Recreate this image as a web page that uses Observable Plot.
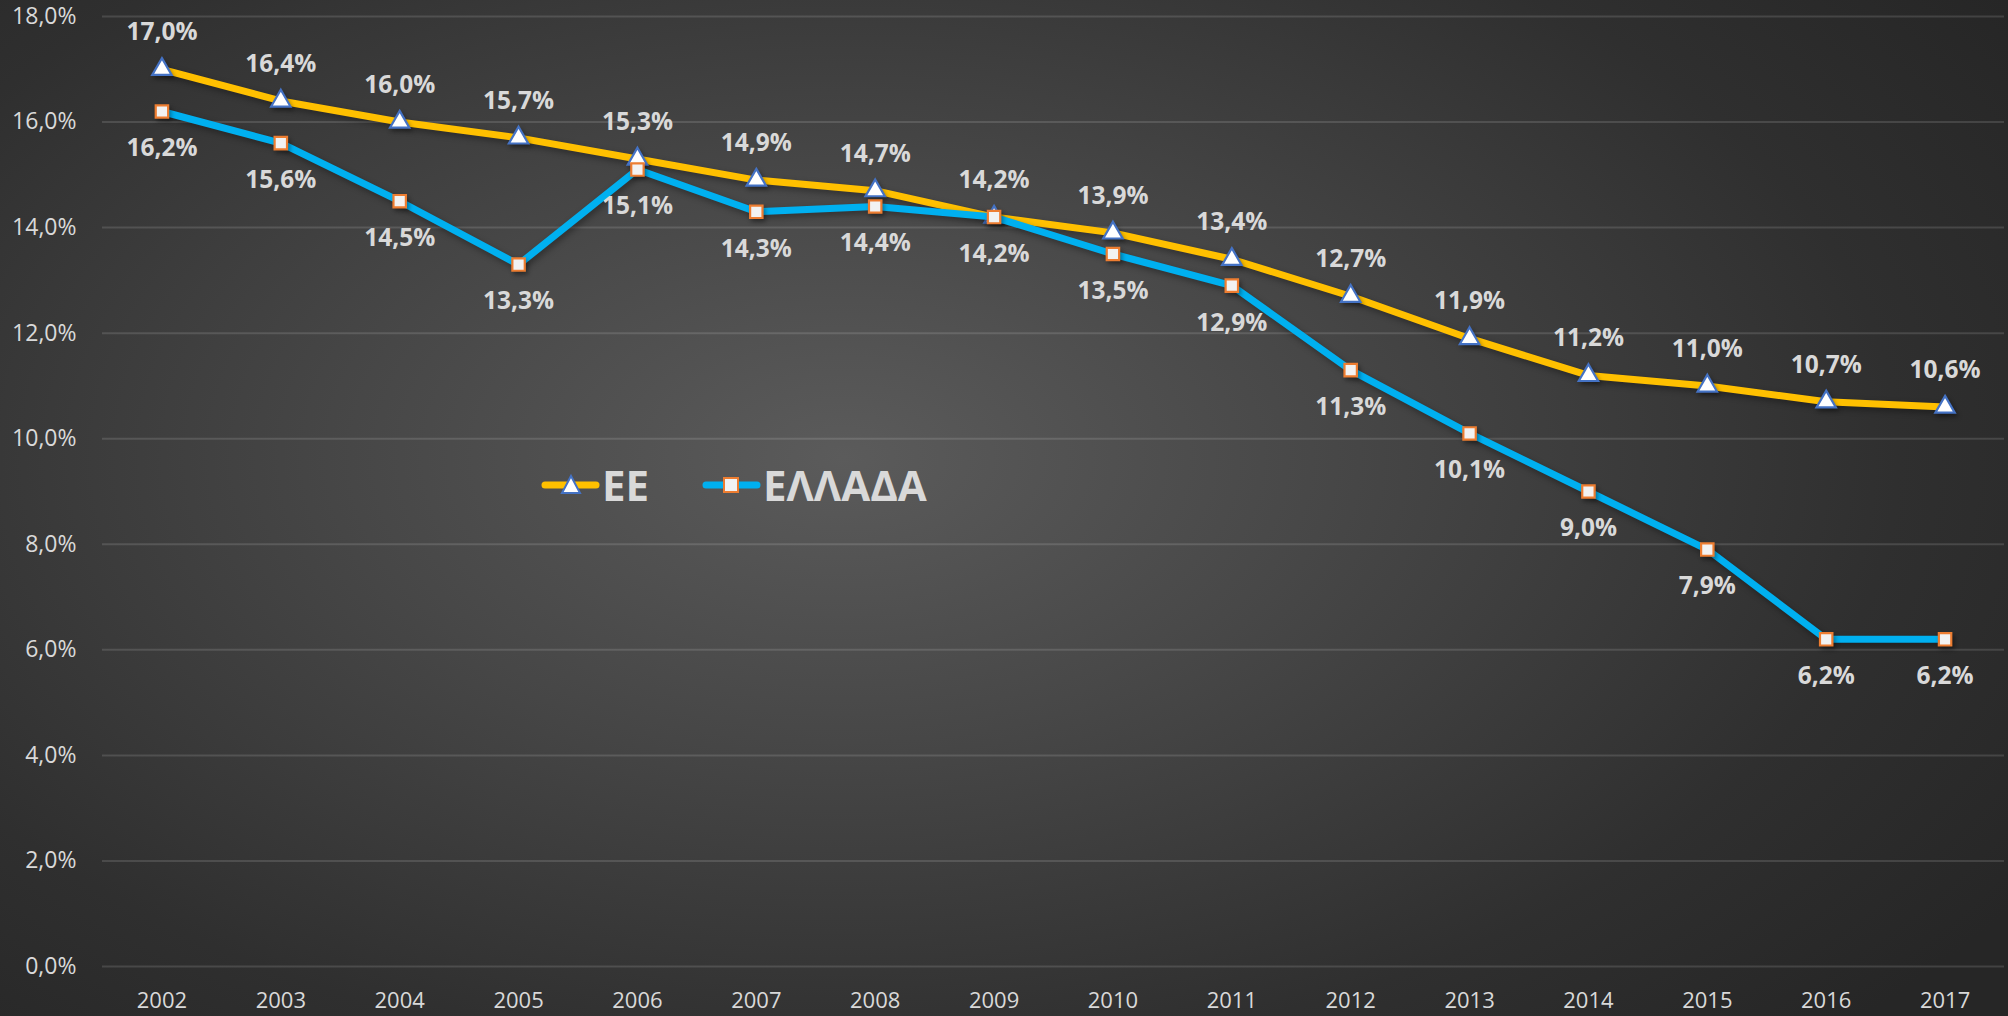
<!DOCTYPE html>
<html>
<head>
<meta charset="utf-8">
<script src="https://cdn.jsdelivr.net/npm/d3@7"></script>
<script src="https://cdn.jsdelivr.net/npm/@observablehq/plot@0.6"></script>
<style>
  html, body { margin: 0; padding: 0; background: #262626; }
  #wrap {
    position: relative; width: 2008px; height: 1016px; overflow: hidden;
    background: radial-gradient(ellipse 70% 80% at 42% 45%, #5b5b5b 0%, #474747 35%, #2f2f2f 75%, #262626 100%);
    font-family: "Open Sans", sans-serif;
  }
  #chart svg { display: block; }
  #chart g[aria-label="line"] path { filter: drop-shadow(2px 3px 3px rgba(0,0,0,0.35)); }
  #chart g[aria-label="dot"] path { filter: drop-shadow(2px 3px 2px rgba(0,0,0,0.35)); }
  #legend {
    position: absolute; left: 540px; top: 457px; height: 56px;
    display: flex; align-items: center; gap: 0;
    color: #d9d9d9; font-weight: 700; font-size: 42px; letter-spacing: 0px;
  }
  #legend .item { display: flex; align-items: center; }
  #legend svg { display: block; }
</style>
</head>
<body>
<div id="wrap">
  <div id="chart"></div>
  <div id="legend"></div>
</div>
<script>
const years = ["2002","2003","2004","2005","2006","2007","2008","2009","2010","2011","2012","2013","2014","2015","2016","2017"];
const seriesEE = [17.0,16.4,16.0,15.7,15.3,14.9,14.7,14.2,13.9,13.4,12.7,11.9,11.2,11.0,10.7,10.6];
const seriesGR = [16.2,15.6,14.5,13.3,15.1,14.3,14.4,14.2,13.5,12.9,11.3,10.1,9.0,7.9,6.2,6.2];
const seriesNames = ["ΕΕ", "ΕΛΛΑΔΑ"];
const yTicks = [0,2,4,6,8,10,12,14,16,18];

const fmt = v => v.toFixed(1).replace(".", ",") + "%";

const ee = years.map((y, i) => ({year: y, value: seriesEE[i], series: seriesNames[0]}));
const gr = years.map((y, i) => ({year: y, value: seriesGR[i], series: seriesNames[1]}));

const colEE = "#FFC000", colGR = "#00B0F0";
const triStroke = "#4472C4", sqStroke = "#ED7D31";
const labelColor = "#d9d9d9";

const chart = Plot.plot({
  width: 2008,
  height: 1016,
  marginLeft: 102,
  marginRight: 4,
  marginTop: 16,
  marginBottom: 50,
  style: {background: "transparent", fontFamily: "'Open Sans', sans-serif", fontSize: "22px", color: labelColor},
  x: {type: "point", domain: years, padding: 0.5, round: false, label: null},
  y: {domain: [0, 18], label: null},
  marks: [
    Plot.gridY(yTicks, {stroke: "#ffffff", strokeOpacity: 0.13, strokeWidth: 2}),
    Plot.axisY(yTicks, {tickSize: 0, tickPadding: 26, tickFormat: d => d.toFixed(1).replace(".", ",") + "%", fontSize: 23, fill: labelColor}),
    Plot.axisX(years, {tickSize: 0, tickPadding: 26, fontSize: 22, fill: labelColor}),
    Plot.line(ee, {x: "year", y: "value", stroke: colEE, strokeWidth: 7, strokeLinejoin: "round"}),
    Plot.dot(ee, {x: "year", y: "value", symbol: "triangle", r: 7.2, fill: "#ffffff", stroke: triStroke, strokeWidth: 2.2}),
    Plot.line(gr, {x: "year", y: "value", stroke: colGR, strokeWidth: 7, strokeLinejoin: "round"}),
    Plot.dot(gr, {x: "year", y: "value", symbol: "square", r: 7, fill: "#f2f2f2", stroke: sqStroke, strokeWidth: 2.2}),
    Plot.text(ee, {x: "year", y: "value", text: d => fmt(d.value), dy: -37, fill: labelColor, fontWeight: "bold", fontSize: 24.5}),
    Plot.text(gr, {x: "year", y: "value", text: d => fmt(d.value), dy: 37, fill: labelColor, fontWeight: "bold", fontSize: 24.5})
  ]
});
document.getElementById("chart").appendChild(chart);

// Legend (HTML overlay)
const legend = document.getElementById("legend");
const legendItems = [
  {name: seriesNames[0], color: colEE, symbol: "tri"},
  {name: seriesNames[1], color: colGR, symbol: "sq"}
];
legendItems.forEach((it, i) => {
  const div = document.createElement("div");
  div.className = "item";
  div.style.marginRight = i === 0 ? "52px" : "0";
  const sym = it.symbol === "tri"
    ? `<polygon points="31,19 40,36 22,36" fill="#ffffff" stroke="${triStroke}" stroke-width="2"/>`
    : `<rect x="23" y="21" width="14" height="14" fill="#f2f2f2" stroke="${sqStroke}" stroke-width="2"/>`;
  div.innerHTML = `<svg width="60" height="56" viewBox="0 0 60 56">
      <line x1="5" y1="28" x2="56" y2="28" stroke="${it.color}" stroke-width="7" stroke-linecap="round"/>
      ${sym}
    </svg><span style="margin-left:2px;line-height:56px">${it.name}</span>`;
  legend.appendChild(div);
});
</script>
</body>
</html>
